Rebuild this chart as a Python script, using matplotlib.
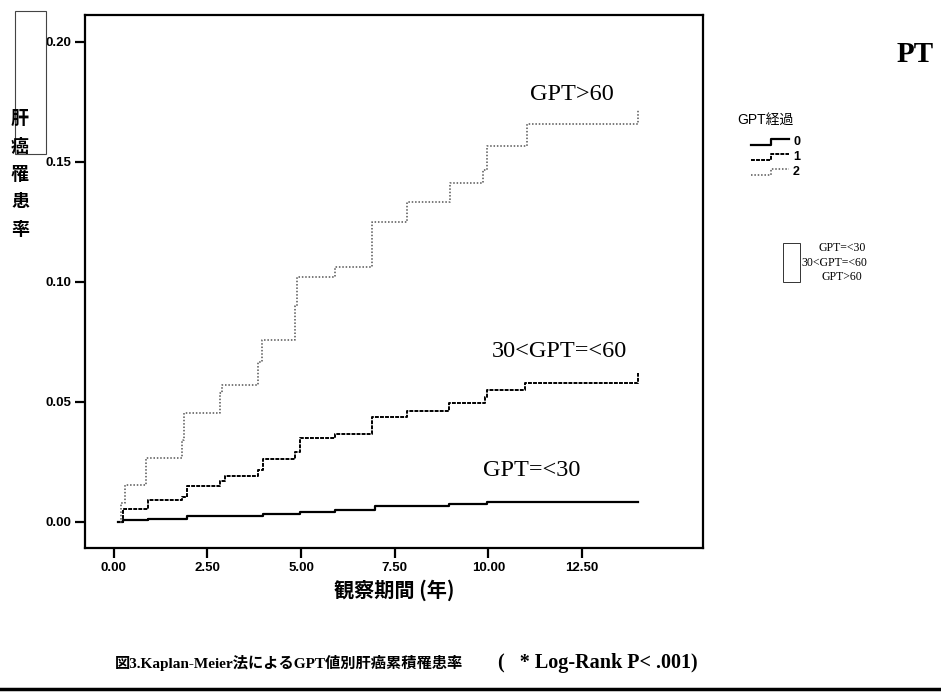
import numpy as np
import matplotlib
matplotlib.use("Agg")
import matplotlib.pyplot as plt
from matplotlib.lines import Line2D
from matplotlib.patches import Rectangle

plt.rcParams['font.family'] = ['Liberation Sans', 'Noto Sans CJK JP', 'DejaVu Sans']

# 観察期間（年）と累積罹患率 — GPT経過 0 / 1 / 2
t_low = [0.11, 0.25, 0.92, 1.94, 3.99, 4.97, 5.90, 6.97, 8.95, 9.97, 14.0]
v_low = [0.0, 0.0007, 0.0011, 0.0022, 0.0032, 0.0040, 0.0050, 0.0066, 0.0074, 0.0082, 0.0082]

t_mid = [0.20, 0.25, 0.92, 1.81, 1.94, 2.83, 2.97, 3.85, 3.99, 4.83, 4.98, 5.90,
         6.88, 7.82, 8.95, 9.90, 9.97, 10.98, 14.0]
v_mid = [0.0, 0.0053, 0.0090, 0.0104, 0.0149, 0.0170, 0.0190, 0.0215, 0.0260, 0.0290,
         0.0350, 0.0365, 0.0435, 0.0460, 0.0493, 0.0520, 0.0550, 0.0577, 0.0618]

t_high = [0.16, 0.20, 0.29, 0.87, 1.81, 1.87, 2.83, 2.90, 3.85, 3.95, 4.83, 4.90,
          5.90, 6.88, 7.82, 8.97, 9.86, 9.95, 11.02, 14.0]
v_high = [0.0, 0.0078, 0.0153, 0.0264, 0.0340, 0.0454, 0.0536, 0.0570, 0.0667, 0.0757,
          0.0900, 0.1020, 0.1060, 0.1250, 0.1330, 0.1410, 0.1465, 0.1565, 0.1656, 0.1715]

grupos = ['0', '1', '2']
etiquetas = ['GPT=<30', '30<GPT=<60', 'GPT>60']
xticks = [0.0, 2.5, 5.0, 7.5, 10.0, 12.5]
yticks = [0.0, 0.05, 0.10, 0.15, 0.20]

estilos = [
    dict(color='black', lw=1.6, linestyle='-'),
    dict(color='black', lw=1.4, linestyle=(0, (2, 0.6))),
    dict(color='#555555', lw=1.1, linestyle=(0, (1, 1.2))),
]

W, H = 941, 700
fig = plt.figure(figsize=(W / 100, H / 100), dpi=100)
ax = fig.add_axes([85 / W, 1 - 548 / H, (703 - 85) / W, (548 - 15) / H])

for (tt, vv), st in zip([(t_low, v_low), (t_mid, v_mid), (t_high, v_high)], estilos):
    ax.step(tt, vv, where='post', **st)

ax.set_xlim(-0.77, 15.73)
ax.set_ylim(-0.011, 0.2111)
ax.set_xticks(xticks)
ax.set_xticklabels([f"{v:.2f}" for v in xticks], fontweight='bold', fontsize=9.5)
ax.set_yticks(yticks)
ax.set_yticklabels([f"{v:.2f}" for v in yticks], fontweight='bold', fontsize=9.5)
ax.tick_params(axis='both', direction='out', length=7, width=1.6, pad=3)
for sp in ax.spines.values():
    sp.set_linewidth(1.6)

serif = ['Liberation Serif', 'Noto Sans CJK JP']
ax.text(11.1, 0.1778, etiquetas[2], fontsize=17.5, family=serif, va='center', ha='left')
ax.text(10.1, 0.0707, etiquetas[1], fontsize=17.5, family=serif, va='center', ha='left')
ax.text(9.85, 0.0211, etiquetas[0], fontsize=17.5, family=serif, va='center', ha='left')

# y軸ラベル（縦書き）
fig.text(20 / W, 1 - 174 / H, '肝\n癌\n罹\n患\n率', fontsize=13, fontweight='bold',
         ha='center', va='center', linespacing=1.58, family=['Noto Sans CJK JP'])
fig.text(394 / W, 1 - 590 / H, '観察期間 (年)', fontsize=14.5, fontweight='bold',
         ha='center', va='center', family=['Noto Sans CJK JP'])

fig.patches.append(Rectangle((14.7 / W, 1 - 154 / H), 31 / W, 143 / H,
                             transform=fig.transFigure, fill=False, lw=0.8, ec='#444444'))

# 凡例 GPT経過
fig.text(737 / W, 1 - 120 / H, 'GPT経過', fontsize=10, ha='left', va='center')
for i, (g, st) in enumerate(zip(grupos, estilos)):
    yc = [142, 157, 172][i]
    fig.add_artist(Line2D(np.array([751, 771, 771, 789]) / W,
                          1 - np.array([yc + 3, yc + 3, yc - 3, yc - 3]) / H,
                          transform=fig.transFigure, **st))
    fig.text(793 / W, 1 - yc / H, g, fontsize=9, fontweight='bold', ha='left', va='center')

fig.text(915 / W, 1 - 54 / H, 'PT', fontsize=21, fontweight='bold', family=serif,
         ha='center', va='center')

fig.patches.append(Rectangle((783 / W, 1 - 282 / H), 17 / W, 39 / H,
                             transform=fig.transFigure, fill=False, lw=0.7, ec='#333333'))
for txt, yy, xx in zip(etiquetas, [248, 263, 277], [842, 834, 842]):
    fig.text(xx / W, 1 - yy / H, txt, fontsize=8.5, family=serif, ha='center', va='center')

fig.text(115 / W, 1 - 663 / H, '図3.Kaplan-Meier法によるGPT値別肝癌累積罹患率',
         fontsize=11, fontweight='bold', family=serif, ha='left', va='center')
fig.text(498 / W, 1 - 663 / H, '(   * Log-Rank P< .001)',
         fontsize=14.5, fontweight='bold', family=serif, ha='left', va='center')
fig.add_artist(Line2D([0, 1], [1 - 689 / H] * 2, transform=fig.transFigure, color='black', lw=2.5))

fig.savefig('out.png', dpi=100)
